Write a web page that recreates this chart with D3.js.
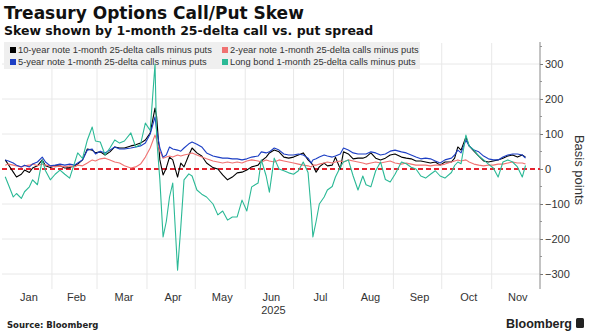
<!DOCTYPE html>
<html>
<head>
<meta charset="utf-8">
<script src="https://cdn.jsdelivr.net/npm/d3@7"></script>
<style>
body { margin: 0; background: #fff; }
svg { display: block; font-family: "Liberation Sans", Arial, sans-serif; }
</style>
</head>
<body>
<svg id="chart" width="599" height="334"></svg>
<script>
var dates = ["2025-01-03","2025-01-05","2025-01-08","2025-01-10","2025-01-13","2025-01-15","2025-01-18","2025-01-20","2025-01-23","2025-01-26",
  "2025-01-28","2025-01-31","2025-02-03","2025-02-06","2025-02-09","2025-02-12","2025-02-15","2025-02-17","2025-02-20","2025-02-23",
  "2025-02-26","2025-02-28","2025-03-03","2025-03-06","2025-03-09","2025-03-12","2025-03-15","2025-03-18","2025-03-22","2025-03-25",
  "2025-03-28","2025-03-31","2025-04-03","2025-04-06","2025-04-07","2025-04-09","2025-04-11","2025-04-13","2025-04-15","2025-04-17",
  "2025-04-20","2025-04-22","2025-04-24","2025-04-27","2025-04-29","2025-05-02","2025-05-05","2025-05-08","2025-05-12","2025-05-15",
  "2025-05-18","2025-05-21","2025-05-24","2025-05-27","2025-05-30","2025-06-02","2025-06-05","2025-06-09","2025-06-11","2025-06-14",
  "2025-06-16","2025-06-19","2025-06-22","2025-06-25","2025-06-28","2025-07-01","2025-07-04","2025-07-07","2025-07-10","2025-07-12",
  "2025-07-13","2025-07-15","2025-07-17","2025-07-20","2025-07-22","2025-07-25","2025-07-27","2025-07-30","2025-08-01","2025-08-04",
  "2025-08-07","2025-08-10","2025-08-13","2025-08-15","2025-08-18","2025-08-21","2025-08-24","2025-08-27","2025-08-30","2025-09-02",
  "2025-09-06","2025-09-09","2025-09-12","2025-09-15","2025-09-18","2025-09-21","2025-09-24","2025-09-27","2025-09-30","2025-10-03",
  "2025-10-07","2025-10-09","2025-10-11","2025-10-13","2025-10-16","2025-10-18","2025-10-21","2025-10-24","2025-10-27","2025-10-30",
  "2025-11-02","2025-11-05","2025-11-08","2025-11-11","2025-11-14","2025-11-17","2025-11-20","2025-11-22"];

var tenYear = [26,12,-9,-23,-15,-3,-10,3,9,26,
  9,4,9,9,3,4,9,14,26,57,
  54,46,49,40,49,63,60,60,66,69,
  74,83,103,174,149,26,-17,3,34,26,
  -23,17,6,40,60,46,37,17,4,0,
  -17,-31,-23,-11,-9,-3,6,11,23,34,
  46,54,49,34,31,34,40,46,26,17,
  11,-9,6,17,9,11,34,0,49,43,
  29,31,31,34,46,31,26,31,40,43,
  34,31,29,23,23,20,17,20,11,20,
  20,31,63,54,91,66,51,37,23,20,
  23,26,31,37,40,34,40,34];

var twoYear = [11,14,11,9,6,9,11,14,9,14,
  11,9,6,9,6,9,6,11,9,17,
  26,23,29,31,26,20,17,9,3,6,
  14,34,60,97,83,51,31,34,37,34,
  40,37,40,43,46,40,34,29,23,20,
  17,20,17,20,17,23,26,23,20,26,
  23,20,26,23,20,17,14,11,9,6,
  11,11,14,17,20,17,20,23,20,26,
  23,20,17,14,17,20,17,20,23,17,
  14,17,14,11,11,11,9,11,11,14,
  20,23,26,23,26,20,14,11,9,11,
  11,14,14,17,20,17,17,14];

var fiveYear = [26,23,17,11,6,11,6,14,20,34,
  20,9,11,14,11,14,11,17,26,54,
  57,43,51,46,54,63,57,57,60,63,
  66,74,100,149,110,60,34,40,63,57,
  54,51,60,72,77,71,63,46,37,34,
  31,31,29,29,26,29,34,37,49,46,
  49,60,54,43,40,40,43,40,31,17,
  26,29,34,40,37,34,37,43,60,54,
  46,43,43,43,49,46,40,43,51,54,
  49,46,40,34,29,31,29,23,17,26,
  31,40,54,46,83,66,54,49,37,29,
  26,26,34,40,43,43,40,31];

var longBond = [-22,-45,-80,-70,-84,-65,-51,-31,-45,26,
  -5,-31,-15,-3,-15,-26,17,46,30,83,
  120,80,77,40,60,83,74,80,103,63,
  70,131,110,300,90,-31,-194,-150,-80,-40,
  -289,-166,-31,-14,-20,-60,-72,-80,-100,-131,
  -120,-146,-137,-137,-89,-120,-51,-40,26,-20,
  -66,31,0,-5,-11,-15,-5,20,-10,-120,
  -194,-150,-100,-80,-60,-50,-23,5,20,26,
  -20,-60,-20,-45,-51,-5,20,-30,-37,-15,
  20,15,5,0,-20,-26,-15,-5,-20,-26,
  -10,10,20,15,97,66,54,37,26,14,
  3,-23,20,26,20,6,-23,10];

var seriesNames = ["10-year note 1-month 25-delta calls minus puts", "2-year note 1-month 25-delta calls minus puts",
  "5-year note 1-month 25-delta calls minus puts", "Long bond 1-month 25-delta calls minus puts"];
var monthLabels = ["Jan","Feb","Mar","Apr","May","Jun","Jul","Aug","Sep","Oct","Nov"];
var yTicks = [-300,-200,-100,0,100,200,300];
var yMinorTicks = [-250,-150,-50,50,150,250,350];

var colors = ["#000000", "#f07272", "#1d3fc4", "#2bb996"];

var parse = d3.timeParse("%Y-%m-%d");
var days = dates.map(parse);
var allSeries = [tenYear, twoYear, fiveYear, longBond];

var svg = d3.select("#chart");

var x = d3.scaleTime().domain([new Date(2025,0,1), new Date(2025,11,1)]).range([2, 540]);
var y = d3.scaleLinear().domain([-340, 360]).range([288, 43]);

// title
svg.append("text").attr("x", 4).attr("y", 19)
  .style("font-family", "'DejaVu Sans', sans-serif").style("font-weight", "bold").style("font-size", "17px")
  .style("fill", "#111").text("Treasury Options Call/Put Skew");
svg.append("text").attr("x", 4).attr("y", 35)
  .style("font-family", "'DejaVu Sans', sans-serif").style("font-weight", "bold").style("font-size", "12.5px")
  .style("fill", "#111").text("Skew shown by 1-month 25-delta call vs. put spread");

// gridlines
var monthStarts = d3.timeMonth.range(new Date(2025,1,1), new Date(2025,11,1));
svg.append("g").selectAll("line").data(monthStarts).enter().append("line")
  .attr("x1", function(d){ return x(d); }).attr("x2", function(d){ return x(d); })
  .attr("y1", 43).attr("y2", 289)
  .style("stroke", "#e8e8e8").style("stroke-width", 1);
svg.append("g").selectAll("line").data(yTicks.filter(function(d){ return d != 0; })).enter().append("line")
  .attr("x1", 2).attr("x2", 540)
  .attr("y1", function(d){ return y(d); }).attr("y2", function(d){ return y(d); })
  .style("stroke", "#e8e8e8").style("stroke-width", 1);

// legend box
svg.append("rect").attr("x", 4).attr("y", 42).attr("width", 416).attr("height", 27).style("fill", "#efefef");
var legendPos = [[10, 47], [222, 47], [10, 59], [222, 59]];
seriesNames.forEach(function(name, i){
  svg.append("rect").attr("x", legendPos[i][0]).attr("y", legendPos[i][1]).attr("width", 6).attr("height", 6)
    .style("fill", colors[i]);
  svg.append("text").attr("x", legendPos[i][0] + 8).attr("y", legendPos[i][1] + 6)
    .style("font-size", "9.3px").style("fill", "#333").text(name);
});

// y axis on the right
var yAxis = svg.append("g").attr("transform", "translate(540,0)")
  .call(d3.axisRight(y).tickValues(yTicks).tickSize(3).tickPadding(2));
yAxis.select(".domain").remove();
yAxis.selectAll("text").style("font-size", "11px").style("fill", "#333").style("font-family", "'Liberation Sans', Arial, sans-serif");
yAxis.selectAll("line").style("stroke", "#777");
svg.append("g").selectAll("line").data(yMinorTicks).enter().append("line")
  .attr("x1", 540).attr("x2", 542)
  .attr("y1", function(d){ return y(d); }).attr("y2", function(d){ return y(d); })
  .style("stroke", "#999");
svg.append("line").attr("x1", 540).attr("x2", 540).attr("y1", 42).attr("y2", 289)
  .style("stroke", "#888").style("stroke-width", 1);

svg.append("text").attr("transform", "translate(575,170)rotate(90)")
  .attr("text-anchor", "middle").style("font-size", "13px").style("fill", "#333").text("Basis points");

// month labels
svg.append("g").selectAll("text").data(monthLabels).enter().append("text")
  .attr("x", function(d, i){ return (x(new Date(2025,i,1)) + x(new Date(2025,i+1,1))) / 2 + 2; })
  .attr("y", 301).attr("text-anchor", "middle")
  .style("font-size", "11px").style("fill", "#333").text(function(d){ return d; });
svg.append("text").attr("x", (x(new Date(2025,5,1)) + x(new Date(2025,6,1))) / 2 + 4).attr("y", 314)
  .attr("text-anchor", "middle").style("font-size", "11px").style("fill", "#333").text("2025");

// zero line
svg.append("line").attr("x1", 2).attr("x2", 540).attr("y1", y(0)).attr("y2", y(0))
  .style("stroke", "#e3232f").style("stroke-width", 2).style("stroke-dasharray", "5,3");

// the lines
var line = d3.line()
  .x(function(d, i){ return x(days[i]); })
  .y(function(d){ return y(d); });

allSeries.forEach(function(s, i){
  svg.append("path").datum(s).attr("d", line)
    .style("fill", "none").style("stroke", colors[i]).style("stroke-width", 1.1)
    .style("stroke-linejoin", "round");
});

// footer
svg.append("text").attr("x", 7).attr("y", 328)
  .style("font-family", "'DejaVu Sans', sans-serif").style("font-weight", "bold").style("font-size", "8.5px")
  .style("fill", "#222").text("Source: Bloomberg");
svg.append("text").attr("x", 572).attr("y", 328).attr("text-anchor", "end")
  .style("font-weight", "bold").style("font-size", "12.5px").style("fill", "#222").text("Bloomberg");
svg.append("rect").attr("x", 576).attr("y", 318).attr("width", 8).attr("height", 10).attr("rx", 1.5)
  .style("fill", "#222");
</script>
</body>
</html>
